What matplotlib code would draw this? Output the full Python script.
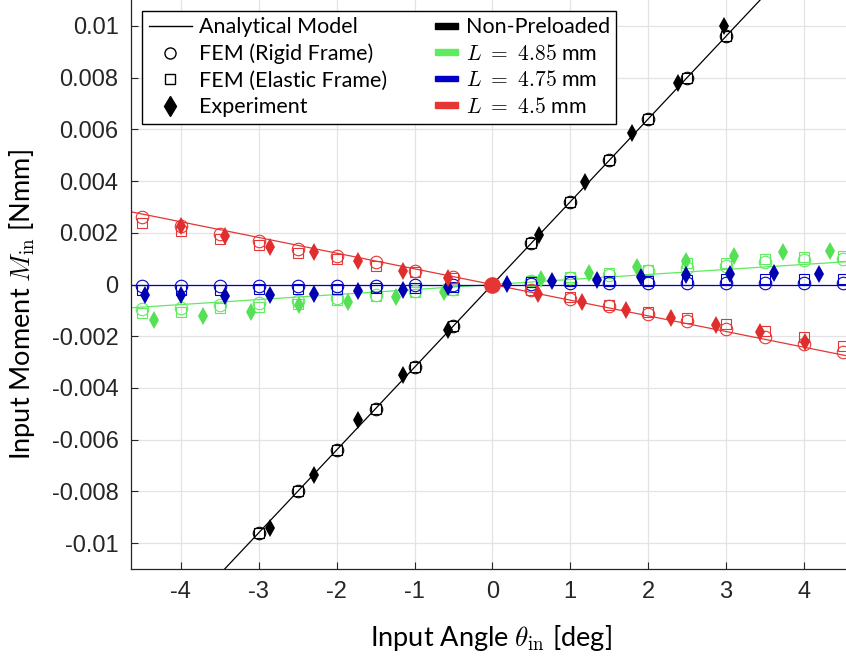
import numpy as np
import matplotlib
matplotlib.use("Agg")
import matplotlib.pyplot as plt
from matplotlib.lines import Line2D
from matplotlib.patches import Rectangle
from matplotlib.legend_handler import HandlerPatch
import matplotlib.patches as mpatches

plt.rcParams['mathtext.fontset'] = 'cm'
plt.rcParams['axes.unicode_minus'] = False

# ---- data ----
theta_fem = [-4.5, -4, -3.5, -3, -2.5, -2, -1.5, -1, -0.5,
             0.5, 1, 1.5, 2, 2.5, 3, 3.5, 4, 4.5]
theta_fem_black = [-3, -2.5, -2, -1.5, -1, -0.5, 0.5, 1, 1.5, 2, 2.5, 3]

# analytical model lines (end points)
theta_line = [-5, 5]
model_black = [-0.0160, 0.0160]
model_green = [-0.00097, 0.00097]
model_blue = [0.0, 0.0]
model_red = [0.00303, -0.00303]

# FEM rigid frame (circles) / elastic frame (squares)
rigid_black = [-0.0096, -0.0080, -0.0064, -0.0048, -0.0032, -0.0016,
               0.0016, 0.0032, 0.0048, 0.0064, 0.0080, 0.0096]
elastic_black = [-0.0096, -0.0080, -0.0064, -0.0048, -0.0032, -0.0016,
                 0.0016, 0.0032, 0.0048, 0.0064, 0.0080, 0.0096]

rigid_green = [-0.00094, -0.00090, -0.00081, -0.00072, -0.00062, -0.00051, -0.00040, -0.00026, -0.00017,
               0.00015, 0.00026, 0.00037, 0.00051, 0.00063, 0.00073, 0.00086, 0.00093, 0.00097]
elastic_green = [-0.00110, -0.00105, -0.00092, -0.00086, -0.00074, -0.00060, -0.00045, -0.00030, -0.00020,
                 0.00012, 0.00030, 0.00043, 0.00055, 0.00085, 0.00082, 0.00099, 0.00105, 0.00110]

rigid_blue = [-0.00006, -0.00006, -0.00006, -0.00006, -0.00005, -0.00005, -0.00004, -0.00003, -0.00002,
              0.00003, 0.00004, 0.00005, 0.00006, 0.00006, 0.00007, 0.00007, 0.00007, 0.00007]
elastic_blue = [-0.00022, -0.00021, -0.00020, -0.00019, -0.00018, -0.00016, -0.00014, -0.00012, -0.00008,
                0.00008, 0.00012, 0.00015, 0.00015, 0.00018, 0.00020, 0.00022, 0.00022, 0.00023]

rigid_red = [0.00260, 0.00228, 0.00196, 0.00167, 0.00138, 0.00112, 0.00086, 0.00054, 0.00028,
             -0.00023, -0.00055, -0.00084, -0.00113, -0.00143, -0.00171, -0.00203, -0.00229, -0.00260]
elastic_red = [0.00238, 0.00205, 0.00177, 0.00151, 0.00122, 0.00099, 0.00073, 0.00048, 0.00024,
               -0.00020, -0.00050, -0.00078, -0.00105, -0.00129, -0.00152, -0.00178, -0.00203, -0.00239]

# experiments
exp_theta_black = [-2.86, -2.29, -1.73, -1.15, -0.57, 0.6, 1.19, 1.79, 2.38, 2.98]
exp_black = [-0.00942, -0.00737, -0.00525, -0.00351, -0.00174, 0.00193, 0.00398, 0.00587, 0.0078, 0.0100]

exp_theta_green = [-4.35, -3.72, -3.1, -2.48, -1.86, -1.24, -0.62, 0.62, 1.24, 1.86, 2.48, 3.1, 3.73, 4.34]
exp_green = [-0.00136, -0.00122, -0.00107, -0.00081, -0.00068, -0.00049, -0.00030,
             0.00022, 0.00044, 0.00067, 0.00089, 0.00109, 0.00125, 0.00131]

exp_theta_blue = [-4.46, -4.0, -3.43, -2.86, -2.29, -1.72, -1.15, -0.57,
                  0.19, 0.76, 1.34, 1.91, 2.48, 3.05, 3.62, 4.19]
exp_blue = [-0.00039, -0.00042, -0.00045, -0.00042, -0.00036, -0.00026, -0.00020, -0.00010,
            0.00003, 0.00012, 0.00019, 0.00028, 0.00035, 0.00039, 0.00045, 0.00041]

exp_theta_red = [-4.0, -3.43, -2.86, -2.29, -1.72, -1.15, -0.57,
                 0.58, 1.15, 1.72, 2.29, 2.87, 3.43, 4.01]
exp_red = [0.00225, 0.00187, 0.00144, 0.00125, 0.00090, 0.00054, 0.00024,
           -0.00036, -0.00066, -0.00100, -0.00130, -0.00158, -0.00184, -0.00223]

origin_theta = [0]
origin_m = [0]

xticks = [-4, -3, -2, -1, 0, 1, 2, 3, 4]
xtick_labels = ['-4', '-3', '-2', '-1', '0', '1', '2', '3', '4']
yticks = [-0.01, -0.008, -0.006, -0.004, -0.002, 0, 0.002, 0.004, 0.006, 0.008, 0.01]
ytick_labels = ['-0.01', '-0.008', '-0.006', '-0.004', '-0.002', '0',
                '0.002', '0.004', '0.006', '0.008', '0.01']

c_black = '#000000'
c_green = '#5EEB5E'
c_blue = '#0000C8'
c_red = '#E63535'
c_green_d = '#55E055'
c_blue_d = '#0000B0'
c_red_d = '#E02E2E'

fig = plt.figure(figsize=(8.46, 6.61), dpi=100)
ax = fig.add_axes([131 / 846, 92 / 661, 715 / 846, 569 / 661])

series = [
    (theta_fem_black, rigid_black, elastic_black, exp_theta_black, exp_black, model_black, c_black, c_black),
    (theta_fem, rigid_green, elastic_green, exp_theta_green, exp_green, model_green, c_green, c_green_d),
    (theta_fem, rigid_blue, elastic_blue, exp_theta_blue, exp_blue, model_blue, c_blue, c_blue_d),
    (theta_fem, rigid_red, elastic_red, exp_theta_red, exp_red, model_red, c_red, c_red_d),
]

for th, rig, ela, eth, ex, mod, col, cold in series:
    ax.plot(theta_line, mod, '-', color=col, lw=0.9, zorder=2)
    ax.plot(th, rig, 'o', ms=9, mfc='none', mec=col, mew=0.8, zorder=3)
    ax.plot(th, ela, 's', ms=7, mfc='none', mec=col, mew=0.8, zorder=3)
    ax.plot(eth, ex, 'd', ms=9, color=cold, mew=0, zorder=4)

ax.plot(origin_theta, origin_m, 'o', ms=11, color=c_red, zorder=5)

ax.set_xlim(-4.64, 4.54)
ax.set_ylim(-0.011, 0.011)
ax.set_xticks(xticks)
ax.set_xticklabels(xtick_labels)
ax.set_yticks(yticks)
ax.set_yticklabels(ytick_labels)
ax.tick_params(direction='in', length=5, width=0.8, colors='#262626',
               labelsize=17, pad=9)
for lab in ax.get_xticklabels() + ax.get_yticklabels():
    lab.set_family('Liberation Sans')
    lab.set_color('#262626')
ax.grid(True, color='#E3E3E3', lw=0.9)
ax.set_axisbelow(True)
for s in ['top', 'right']:
    ax.spines[s].set_visible(False)
for s in ['left', 'bottom']:
    ax.spines[s].set_color('#262626')
    ax.spines[s].set_linewidth(0.9)

ax.set_xlabel(r'Input Angle $\theta_{\rm in}$ [deg]', fontsize=19.5, family='Lato')
ax.set_ylabel(r'Input Moment $M_{\rm in}$ [Nmm]', fontsize=19.5, family='Lato')
ax.xaxis.set_label_coords((491 - 131) / 715, -(638 - 569) / 569)
ax.yaxis.set_label_coords(-(131 - 22) / 715, (569 - 305) / 569)
ax.xaxis.label.set_va('center')
ax.yaxis.label.set_va('center')


def short_bar(legend, orig_handle, xdescent, ydescent, width, height, fontsize):
    w = width * 0.55
    h = 4.0
    return Rectangle((width - w - xdescent, height / 2 - h / 2 - ydescent), w, h)


handles = [
    Line2D([], [], color='k', lw=1),
    Line2D([], [], ls='none', marker='o', ms=8, mfc='none', mec='k', mew=1),
    Line2D([], [], ls='none', marker='s', ms=7, mfc='none', mec='k', mew=1),
    Line2D([], [], ls='none', marker='d', ms=10, color='k'),
    mpatches.Patch(color=c_black),
    mpatches.Patch(color=c_green),
    mpatches.Patch(color=c_blue),
    mpatches.Patch(color=c_red),
]
labels = ['Analytical Model', 'FEM (Rigid Frame)', 'FEM (Elastic Frame)', 'Experiment',
          'Non-Preloaded', r'$L\ =\ 4.85$ mm', r'$L\ =\ 4.75$ mm', r'$L\ =\ 4.5$ mm']
leg = ax.legend(handles, labels, ncol=2, loc='upper left', bbox_to_anchor=(0.0155, 0.981),
                prop={'family': 'Lato', 'size': 15.5}, frameon=True, fancybox=False,
                edgecolor='k', framealpha=1, borderpad=0.3, labelspacing=0.3,
                handlelength=2.0, handletextpad=0.35, columnspacing=1.3,
                borderaxespad=0,
                handler_map={mpatches.Patch: HandlerPatch(patch_func=short_bar)})
leg.get_frame().set_linewidth(1.0)

fig.savefig('out.png', dpi=100)
